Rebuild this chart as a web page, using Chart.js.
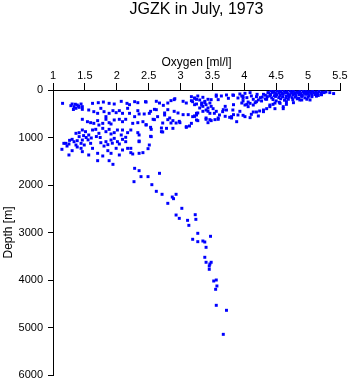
<!DOCTYPE html>
<html>
<head>
<meta charset="utf-8">
<script src="https://cdn.jsdelivr.net/npm/chart.js@4"></script>
<style>
  html, body { margin: 0; padding: 0; background: #fff; }
  canvas { display: block; }
</style>
</head>
<body>
<canvas id="chart" width="350" height="384"></canvas>
<script>
// Oxygen [ml/l] and depth [m], one pair per station sample
// near-surface, well oxygenated layer
const surfaceOxygen = [
    4.42, 4.47, 4.52, 4.57, 4.62, 4.67, 4.72, 4.77, 4.82, 4.87, 4.92, 4.97, 5.02, 5.07, 5.12, 5.17, 5.22, 5.28, 5.34, 5.40,
    4.38, 4.44, 4.49, 4.54, 4.59, 4.64, 4.69, 4.74, 4.79, 4.84, 4.89, 4.94, 4.99, 5.04, 5.09, 5.14, 5.20, 5.25,
    4.33, 4.41, 4.47, 4.51, 4.56, 4.61, 4.66, 4.71, 4.76, 4.81, 4.86, 4.91, 4.96, 5.01, 5.06, 5.11, 5.16, 5.21,
    4.28, 4.36, 4.43, 4.49, 4.54, 4.60, 4.65, 4.70, 4.75, 4.80, 4.85, 4.90, 4.95, 5.00, 5.06, 5.13,
    4.22, 4.33, 4.45, 4.50, 4.57, 4.63, 4.69, 4.76, 4.83, 4.90, 4.98, 5.03, 4.55, 4.66, 4.48,
    4.45, 4.55, 4.65, 4.75, 4.85, 4.95, 5.05, 5.15, 4.60, 4.80, 5.00, 4.70, 4.90
];
const surfaceDepth = [
    20, 35, 15, 30, 20, 35, 15, 25, 40, 20, 30, 15, 35, 25, 40, 30, 45, 40, 55, 75,
    60, 50, 75, 55, 70, 50, 80, 60, 70, 55, 75, 60, 50, 70, 60, 75, 65, 55,
    110, 95, 120, 100, 115, 90, 125, 105, 95, 120, 100, 110, 90, 120, 105, 95, 115, 100,
    150, 140, 165, 135, 160, 145, 170, 140, 160, 150, 175, 135, 165, 150, 140, 130,
    210, 190, 200, 230, 185, 215, 195, 205, 185, 210, 195, 210, 260, 245, 275,
    45, 45, 55, 45, 60, 40, 55, 60, 85, 85, 80, 130, 125
];

// upper layer, 3.1 - 4.9 ml/l
const upperOxygen = [
    3.96, 4.01, 4.04, 4.09, 4.14, 4.20, 4.25, 4.30, 4.35, 4.37, 4.40, 4.27, 4.17, 4.06, 3.98, 4.04,
    4.45, 4.40, 4.35, 4.30, 4.24, 4.19, 4.14, 4.11, 3.98, 4.01, 4.09, 4.22, 4.48, 4.61, 4.77, 4.66,
    3.25, 3.40, 3.46, 3.53, 3.61, 3.66, 3.72, 3.80, 3.82, 3.90, 4.01, 4.06, 4.09, 4.14, 4.19, 4.30, 4.40, 4.56, 4.61, 4.87,
    3.22, 3.27, 3.40, 3.43, 3.48, 3.59, 3.77, 3.88, 3.14,
    3.17, 3.22, 3.27, 3.30, 3.35, 3.38, 3.43, 3.19, 3.33, 3.25,
    3.56, 3.64, 3.72, 3.75, 3.82, 3.93, 3.98, 4.11, 4.19,
    3.56, 3.59, 3.83, 3.90, 3.98, 3.96, 3.83, 3.70, 3.67, 3.56, 3.51, 3.43,
    3.40, 3.35, 3.22, 3.27, 3.40, 3.46, 3.54, 3.59, 3.70, 3.80, 3.83, 3.93,
    3.22, 3.33, 3.38, 3.46, 3.48, 3.22, 3.30, 3.43, 3.48, 3.35
];
const upperDepth = [
    126, 70, 161, 56, 196, 91, 161, 91, 196, 56, 126, 231, 267, 253, 231, 302,
    302, 351, 393, 421, 442, 463, 463, 512, 533, 561, 582, 547, 393, 393, 267, 302,
    491, 421, 491, 491, 526, 456, 421, 561, 421, 526, 316, 351, 281, 316, 246, 456, 316, 281, 351, 210,
    547, 645, 617, 688, 645, 617, 575, 667, 758,
    140, 175, 126, 210, 154, 267, 196, 246, 316, 295,
    105, 126, 105, 175, 105, 84, 175, 126, 140,
    133, 203, 112, 168, 133, 274, 309, 344, 414, 449, 393, 379,
    309, 344, 554, 484, 589, 624, 624, 589, 554, 589, 519, 449,
    168, 274, 238, 274, 203, 309, 379, 449, 344, 449
];

// transition, 2.4 - 3.3 ml/l
const midOxygen = [
    2.46, 2.62, 2.67, 2.80, 2.85, 2.90, 3.04, 3.09, 2.53, 2.62, 2.75, 2.80, 2.90, 2.96, 3.04, 3.12,
    2.46, 2.53, 2.59, 2.72, 2.80, 2.85, 2.93, 2.98, 3.09, 2.83, 2.70, 2.72, 2.53,
    2.73, 2.91, 3.17, 3.25, 2.64, 2.75, 3.19, 3.25, 2.88, 2.99, 3.09,
    3.17, 3.25, 2.54, 2.54, 2.70, 2.78, 2.88, 2.51, 2.57, 2.59, 2.51
];
const midDepth = [
    253, 238, 274, 274, 224, 203, 238, 274, 449, 414, 484, 414, 449, 484, 519, 519,
    730, 786, 624, 695, 624, 695, 695, 660, 786, 589, 800, 884, 975,
    323, 183, 225, 197, 561, 526, 561, 526, 645, 688, 772,
    702, 631, 828, 982, 877, 807, 807, 1158, 617, 407, 491
];

// oxygen minimum zone, below 2.5 ml/l
const minimumOxygen = [
    1.15, 1.30, 1.33, 1.38, 1.44, 1.46, 1.41, 1.36, 1.62, 1.71, 1.79, 1.88, 1.96, 2.07, 2.16, 2.20, 2.28, 2.33, 2.45,
    1.46, 1.56, 1.64, 1.70, 1.75, 1.80, 1.83, 1.88, 1.94, 1.99, 2.04, 2.09, 2.17, 2.20, 2.28, 2.33, 2.35, 2.43,
    1.46, 1.54, 1.59, 1.64, 1.70, 1.72, 1.78, 1.83, 1.88, 1.91, 1.96, 2.04, 2.09, 2.14, 2.25, 2.33, 2.41, 2.46,
    1.36, 1.41, 1.46, 1.51, 1.56, 1.62, 1.67, 1.72, 1.78, 1.83, 1.88, 1.91, 1.96, 2.01, 2.07, 2.09, 2.14, 2.17, 2.22, 2.33, 2.35,
    1.20, 1.25, 1.30, 1.33, 1.36, 1.38, 1.41, 1.44, 1.46, 1.49, 1.59, 1.62, 1.75, 1.83, 1.91, 1.96, 2.01, 2.04, 2.09, 2.14, 2.17, 2.22, 2.35,
    1.14, 1.25, 1.30, 1.44, 1.46, 1.56, 1.70, 1.78, 1.86, 1.91, 1.99, 2.04, 2.09, 2.22, 2.25, 2.35, 2.41, 1.17, 2.49, 2.35,
    1.70, 1.88, 1.94, 2.28, 2.35, 2.38, 2.49, 2.67,
    1.28, 1.35, 1.40, 1.32, 1.26, 1.22, 1.38, 1.52, 1.48, 1.55, 1.60, 1.68, 1.74, 1.80, 1.86, 1.93
];
const minimumDepth = [
    281, 295, 351, 316, 295, 351, 365, 386, 281, 267, 253, 281, 295, 239, 281, 309, 246, 267, 246,
    407, 421, 456, 491, 386, 456, 561, 491, 435, 477, 435, 491, 386, 491, 561, 435, 505, 505,
    617, 667, 688, 702, 645, 737, 702, 617, 688, 716, 631, 617, 667, 617, 702, 688, 667, 737,
    912, 898, 842, 877, 947, 842, 828, 912, 807, 877, 828, 926, 898, 842, 947, 842, 996, 898, 842, 898, 947,
    1123, 1137, 1039, 1088, 1158, 1067, 982, 1123, 1053, 1158, 1123, 1228, 1109, 1088, 1053, 1018, 1088, 1137, 1039, 1088, 1228, 1228, 1088,
    1249, 1368, 1277, 1228, 1298, 1368, 1333, 1389, 1277, 1333, 1228, 1368, 1263, 1319, 1347, 1333, 1319, 1123, 1235, 1074,
    1488, 1488, 1565, 1649, 1698, 1824, 1824, 1754,
    330, 300, 340, 410, 1060, 1180, 1200, 1000, 960, 1050, 1010, 980, 1000, 1180, 1150, 1120
];

// deep water
const deepOxygen = [
    2.27, 2.55, 2.62, 2.71, 2.80, 2.87, 2.89, 2.93, 3.02, 2.93, 2.98, 3.11, 3.13, 3.23, 3.24, 3.27, 3.19, 3.27,
    3.35, 3.38, 3.47, 3.40, 3.38, 3.40, 3.48, 3.46, 3.45, 3.45, 3.52, 3.56, 3.57, 3.55, 3.56, 3.72, 3.67
];
const deepDepth = [
    1930, 1993, 2133, 2196, 2386, 2253, 2288, 2196, 2491, 2632, 2702, 2744, 2849, 2625, 2723, 3017, 3143, 3193,
    3179, 3200, 3080, 3312, 3522, 3627, 3627, 3663, 3705, 3775, 4021, 4000, 4126, 4196, 4533, 4638, 5144
];

const oxygenTicks = { min: 1, max: 5.5, step: 0.5 };
const depthTicks = { min: 0, max: 6000, step: 1000 };

function toPoints(oxygen, depth) {
    return oxygen.map((o, i) => ({ x: o, y: depth[i] }));
}

const samples = [
    ...toPoints(surfaceOxygen, surfaceDepth),
    ...toPoints(upperOxygen, upperDepth),
    ...toPoints(midOxygen, midDepth),
    ...toPoints(minimumOxygen, minimumDepth),
    ...toPoints(deepOxygen, deepDepth)
];

Chart.defaults.font.family = '"Liberation Sans", Arial, Helvetica, sans-serif';
Chart.defaults.color = '#000';

const ctx = document.getElementById('chart').getContext('2d');

new Chart(ctx, {
    type: 'scatter',
    data: {
        datasets: [{
            data: samples,
            pointStyle: 'rect',
            pointRadius: 2.1,
            pointHoverRadius: 2.1,
            backgroundColor: '#0000ff',
            borderWidth: 0
        }]
    },
    options: {
        responsive: false,
        animation: false,
        events: [],
        layout: { padding: { right: 10, bottom: 9 } },
        plugins: {
            legend: { display: false },
            tooltip: { enabled: false },
            title: {
                display: true,
                text: 'JGZK in July, 1973',
                fullSize: false,
                color: '#000',
                font: { size: 16, weight: 'normal' },
                padding: { top: 0, bottom: 0 }
            }
        },
        scales: {
            x: {
                type: 'linear',
                position: 'top',
                min: oxygenTicks.min,
                max: oxygenTicks.max,
                ticks: {
                    stepSize: oxygenTicks.step,
                    autoSkip: false,
                    maxRotation: 0,
                    padding: 0,
                    color: '#000',
                    font: { size: 11 },
                    callback: (value) => String(Math.round(value * 10) / 10)
                },
                grid: { drawOnChartArea: false, tickLength: 7, color: '#000' },
                border: { display: true, color: '#000' },
                title: {
                    display: true,
                    text: 'Oxygen [ml/l]',
                    color: '#000',
                    font: { size: 12 },
                    padding: { top: 36.4, bottom: 0 }
                },
                afterFit: (scale) => { scale.height = 70.8; }
            },
            y: {
                type: 'linear',
                position: 'left',
                reverse: true,
                min: depthTicks.min,
                max: depthTicks.max,
                ticks: {
                    stepSize: depthTicks.step,
                    padding: 5,
                    color: '#000',
                    font: { size: 11 },
                    callback: (value) => String(value)
                },
                grid: { drawOnChartArea: false, tickLength: 5, color: '#000' },
                border: { display: true, color: '#000' },
                title: {
                    display: true,
                    text: 'Depth [m]',
                    color: '#000',
                    font: { size: 12 },
                    padding: { top: 1, bottom: 0 }
                },
                afterFit: (scale) => {
                    scale.width = 53;
                    scale.paddingTop = 0;
                    scale.paddingBottom = 0;
                }
            }
        }
    }
});
</script>
</body>
</html>
